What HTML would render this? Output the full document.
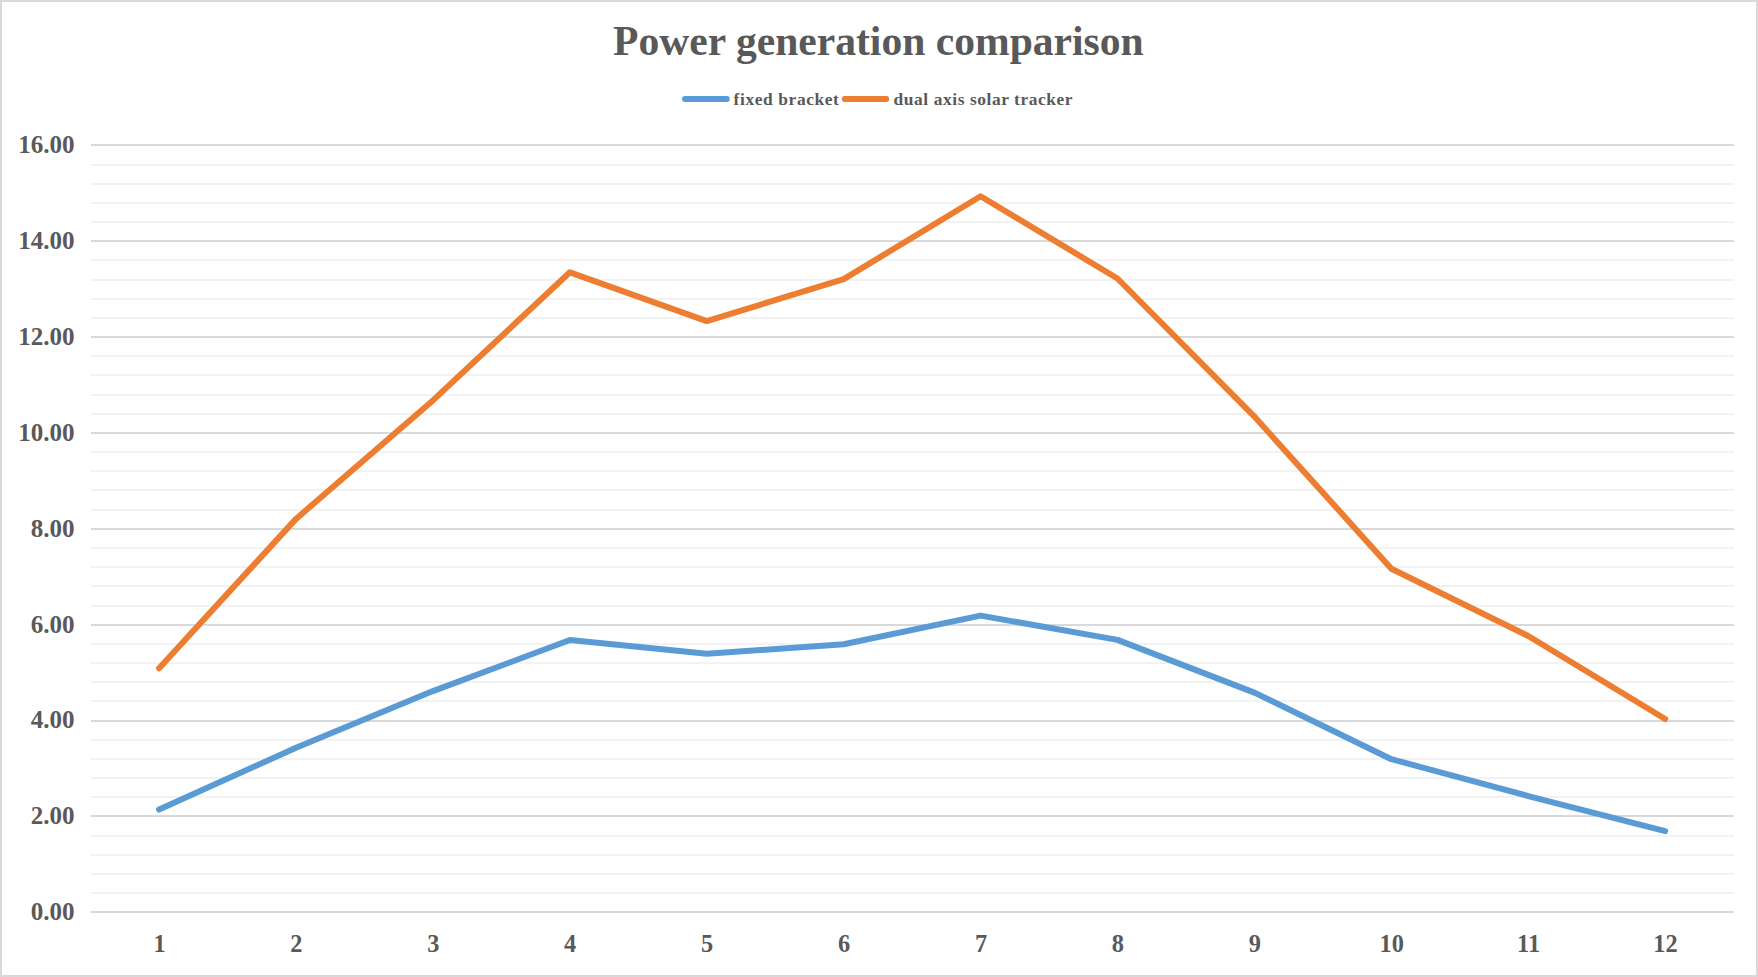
<!DOCTYPE html>
<html lang="en"><head><meta charset="utf-8"><title>Power generation comparison</title>
<style>
html,body{margin:0;padding:0;background:#fff;}
body{width:1758px;height:977px;overflow:hidden;position:relative;}
#chart{position:absolute;left:0;top:0;width:1758px;height:977px;box-sizing:border-box;border:2px solid #D9D9D9;background:#fff;}
svg{position:absolute;left:-2px;top:-2px;}
text{font-family:"Liberation Serif",serif;font-weight:bold;fill:#595959;}
.ax{font-size:25.7px;}
.title{font-size:41.6px;}
.lg{font-size:17.4px;}
</style></head><body>
<div id="chart">
<svg width="1758" height="977" viewBox="0 0 1758 977">
<g shape-rendering="crispEdges" stroke-width="2">
<line x1="91" x2="1734" y1="165" y2="165" stroke="#F2F2F2"/>
<line x1="91" x2="1734" y1="184" y2="184" stroke="#F2F2F2"/>
<line x1="91" x2="1734" y1="203" y2="203" stroke="#F2F2F2"/>
<line x1="91" x2="1734" y1="222" y2="222" stroke="#F2F2F2"/>
<line x1="91" x2="1734" y1="260" y2="260" stroke="#F2F2F2"/>
<line x1="91" x2="1734" y1="280" y2="280" stroke="#F2F2F2"/>
<line x1="91" x2="1734" y1="299" y2="299" stroke="#F2F2F2"/>
<line x1="91" x2="1734" y1="318" y2="318" stroke="#F2F2F2"/>
<line x1="91" x2="1734" y1="356" y2="356" stroke="#F2F2F2"/>
<line x1="91" x2="1734" y1="375" y2="375" stroke="#F2F2F2"/>
<line x1="91" x2="1734" y1="395" y2="395" stroke="#F2F2F2"/>
<line x1="91" x2="1734" y1="414" y2="414" stroke="#F2F2F2"/>
<line x1="91" x2="1734" y1="452" y2="452" stroke="#F2F2F2"/>
<line x1="91" x2="1734" y1="471" y2="471" stroke="#F2F2F2"/>
<line x1="91" x2="1734" y1="490" y2="490" stroke="#F2F2F2"/>
<line x1="91" x2="1734" y1="510" y2="510" stroke="#F2F2F2"/>
<line x1="91" x2="1734" y1="548" y2="548" stroke="#F2F2F2"/>
<line x1="91" x2="1734" y1="567" y2="567" stroke="#F2F2F2"/>
<line x1="91" x2="1734" y1="586" y2="586" stroke="#F2F2F2"/>
<line x1="91" x2="1734" y1="606" y2="606" stroke="#F2F2F2"/>
<line x1="91" x2="1734" y1="644" y2="644" stroke="#F2F2F2"/>
<line x1="91" x2="1734" y1="663" y2="663" stroke="#F2F2F2"/>
<line x1="91" x2="1734" y1="682" y2="682" stroke="#F2F2F2"/>
<line x1="91" x2="1734" y1="701" y2="701" stroke="#F2F2F2"/>
<line x1="91" x2="1734" y1="740" y2="740" stroke="#F2F2F2"/>
<line x1="91" x2="1734" y1="759" y2="759" stroke="#F2F2F2"/>
<line x1="91" x2="1734" y1="778" y2="778" stroke="#F2F2F2"/>
<line x1="91" x2="1734" y1="797" y2="797" stroke="#F2F2F2"/>
<line x1="91" x2="1734" y1="836" y2="836" stroke="#F2F2F2"/>
<line x1="91" x2="1734" y1="855" y2="855" stroke="#F2F2F2"/>
<line x1="91" x2="1734" y1="874" y2="874" stroke="#F2F2F2"/>
<line x1="91" x2="1734" y1="893" y2="893" stroke="#F2F2F2"/>
<line x1="91" x2="1734" y1="145" y2="145" stroke="#D9D9D9"/>
<line x1="91" x2="1734" y1="241" y2="241" stroke="#D9D9D9"/>
<line x1="91" x2="1734" y1="337" y2="337" stroke="#D9D9D9"/>
<line x1="91" x2="1734" y1="433" y2="433" stroke="#D9D9D9"/>
<line x1="91" x2="1734" y1="529" y2="529" stroke="#D9D9D9"/>
<line x1="91" x2="1734" y1="625" y2="625" stroke="#D9D9D9"/>
<line x1="91" x2="1734" y1="721" y2="721" stroke="#D9D9D9"/>
<line x1="91" x2="1734" y1="816" y2="816" stroke="#D9D9D9"/>
<line x1="91" x2="1734" y1="912" y2="912" stroke="#D9D9D9"/>
</g>
<polyline points="159.1,809.6 296.0,747.7 432.9,691.1 569.9,640.0 706.8,653.8 843.7,644.2 980.6,615.6 1117.5,639.9 1254.4,692.6 1391.4,759.2 1528.3,796.1 1665.2,831.1" fill="none" stroke="#5B9BD5" stroke-width="6" stroke-linecap="round" stroke-linejoin="round"/>
<polyline points="159.1,668.3 296.0,518.9 432.9,400.4 569.9,272.3 706.8,321.1 843.7,279.1 980.6,196.3 1117.5,278.5 1254.4,416.6 1391.4,568.7 1528.3,636.0 1665.2,719.0" fill="none" stroke="#ED7D31" stroke-width="6" stroke-linecap="round" stroke-linejoin="round"/>
<text transform="translate(74.6 920.1) scale(0.977 1)" text-anchor="end" class="ax">0.00</text>
<text transform="translate(74.6 824.1) scale(0.977 1)" text-anchor="end" class="ax">2.00</text>
<text transform="translate(74.6 728.1) scale(0.977 1)" text-anchor="end" class="ax">4.00</text>
<text transform="translate(74.6 632.6) scale(0.977 1)" text-anchor="end" class="ax">6.00</text>
<text transform="translate(74.6 537.1) scale(0.977 1)" text-anchor="end" class="ax">8.00</text>
<text transform="translate(74.6 441.1) scale(0.977 1)" text-anchor="end" class="ax">10.00</text>
<text transform="translate(74.6 345.1) scale(0.977 1)" text-anchor="end" class="ax">12.00</text>
<text transform="translate(74.6 249.1) scale(0.977 1)" text-anchor="end" class="ax">14.00</text>
<text transform="translate(74.6 153.1) scale(0.977 1)" text-anchor="end" class="ax">16.00</text>
<text transform="translate(159.5 952.2) scale(0.95 1)" text-anchor="middle" class="ax">1</text>
<text transform="translate(296.4 952.2) scale(0.95 1)" text-anchor="middle" class="ax">2</text>
<text transform="translate(433.3 952.2) scale(0.95 1)" text-anchor="middle" class="ax">3</text>
<text transform="translate(570.2 952.2) scale(0.95 1)" text-anchor="middle" class="ax">4</text>
<text transform="translate(707.1 952.2) scale(0.95 1)" text-anchor="middle" class="ax">5</text>
<text transform="translate(844.0 952.2) scale(0.95 1)" text-anchor="middle" class="ax">6</text>
<text transform="translate(981.0 952.2) scale(0.95 1)" text-anchor="middle" class="ax">7</text>
<text transform="translate(1117.9 952.2) scale(0.95 1)" text-anchor="middle" class="ax">8</text>
<text transform="translate(1254.8 952.2) scale(0.95 1)" text-anchor="middle" class="ax">9</text>
<text transform="translate(1391.7 952.2) scale(0.95 1)" text-anchor="middle" class="ax">10</text>
<text transform="translate(1528.6 952.2) scale(0.95 1)" text-anchor="middle" class="ax">11</text>
<text transform="translate(1665.5 952.2) scale(0.95 1)" text-anchor="middle" class="ax">12</text>
<text x="878.4" y="55.3" text-anchor="middle" class="title">Power generation comparison</text>
<line x1="685" x2="726.8" y1="98.9" y2="98.9" stroke="#5B9BD5" stroke-width="6" stroke-linecap="round"/>
<text x="733.6" y="104.6" class="lg" textLength="105.3" lengthAdjust="spacing">fixed bracket</text>
<line x1="844.8" x2="886.2" y1="98.9" y2="98.9" stroke="#ED7D31" stroke-width="6" stroke-linecap="round"/>
<text x="893.6" y="104.6" class="lg" textLength="179" lengthAdjust="spacing">dual axis solar tracker</text>
</svg>
</div>
</body></html>
